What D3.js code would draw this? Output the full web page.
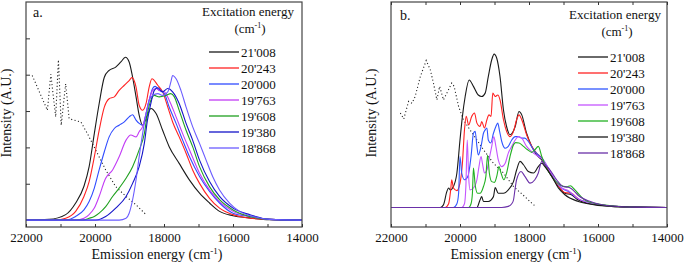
<!DOCTYPE html>
<html>
<head>
<meta charset="utf-8">
<script src="https://cdn.jsdelivr.net/npm/d3@7/dist/d3.min.js"></script>
<style>
body { margin: 0; background: #fff; }
</style>
</head>
<body>
<svg id="chart" width="685" height="266"></svg>
<script>
//Excitation energies used as legend entries (cm-1)
var excitationLabels = ["21'008", "20'243", "20'000", "19'763", "19'608", "19'380", "18'868"];
var colorsA = ["#1a1a1a", "#ff2222", "#2f4bff", "#c23cf5", "#1fa01f", "#1414c8", "#6b5cff"];
var colorsB = ["#1a1a1a", "#ff2222", "#2f55ff", "#c455ff", "#22b022", "#1a1a1a", "#6a30a8"];

var energyLabels = [22000, 20000, 18000, 16000, 14000];
var energyTicks = [22000, 21000, 20000, 19000, 18000, 17000, 16000, 15000, 14000];
var intensityTicksA = [1, 2, 3, 4, 5];

var serif = "'Liberation Serif', 'Times New Roman', Times, 'DejaVu Serif', serif";

//Panel a: room temperature emission spectra [energy, intensity]
var a21008 = [[22000,0],[21330,0.02],[20850,0.15],[20560,0.47],[20320,0.93],[20170,1.47],[20020,2.38],[19880,3.20],[19730,3.93],[19590,4.12],[19400,4.21],[19250,4.35],[19120,4.48],[19010,4.35],[18910,3.93],[18810,3.39],[18720,2.89],[18620,2.61],[18480,2.89],[18380,3.07],[18230,2.93],[18040,2.47],[17850,2.02],[17560,1.56],[17260,1.10],[16970,0.74],[16680,0.47],[16390,0.24],[16000,0.12],[15520,0.06],[14940,0.01],[14000,0]];
var a20243 = [[22000,0],[21140,0],[20850,0.05],[20560,0.24],[20320,0.65],[20170,1.06],[20020,1.74],[19880,2.47],[19730,3.11],[19590,3.34],[19440,3.39],[19300,3.57],[19150,3.71],[19010,3.84],[18930,3.92],[18810,3.66],[18720,3.16],[18620,3.02],[18520,3.21],[18430,3.66],[18350,3.89],[18180,3.71],[18040,3.53],[17890,3.11],[17750,2.70],[17560,2.29],[17360,1.84],[17170,1.38],[16970,1.01],[16680,0.60],[16390,0.33],[16000,0.15],[15520,0.05],[14940,0.02],[14000,0]];
var a20000 = [[22000,0],[20850,0],[20560,0.10],[20320,0.28],[20170,0.51],[20020,0.88],[19880,1.38],[19730,1.88],[19590,2.29],[19440,2.52],[19300,2.61],[19150,2.70],[19010,2.84],[18910,2.90],[18810,2.75],[18720,2.66],[18620,2.61],[18520,2.93],[18430,3.30],[18330,3.62],[18260,3.68],[18140,3.57],[17990,3.48],[17850,3.11],[17650,2.66],[17460,2.20],[17260,1.74],[16970,1.20],[16680,0.79],[16390,0.47],[16000,0.19],[15520,0.10],[14940,0.02],[14000,0]];
var a19763 = [[22000,0],[20560,0],[20320,0.05],[20170,0.15],[20020,0.33],[19880,0.65],[19730,1.06],[19690,1.15],[19490,1.38],[19300,1.74],[19100,2.20],[18960,2.34],[18810,2.29],[18720,2.43],[18620,2.57],[18520,2.93],[18430,3.30],[18330,3.57],[18230,3.62],[18140,3.57],[17990,3.53],[17850,3.30],[17650,2.84],[17460,2.38],[17260,1.93],[16970,1.29],[16680,0.83],[16390,0.51],[16000,0.24],[15520,0.10],[14940,0.02],[14000,0]];
var a19608 = [[22000,0],[20360,0],[20170,0.05],[20020,0.10],[19880,0.19],[19690,0.37],[19490,0.65],[19300,0.88],[19100,1.15],[18910,1.47],[18720,1.93],[18570,2.38],[18480,2.93],[18380,3.30],[18280,3.43],[18140,3.39],[17940,3.43],[17800,3.48],[17700,3.39],[17560,3.02],[17360,2.47],[17170,2.02],[16970,1.47],[16680,0.92],[16390,0.56],[16000,0.28],[15520,0.10],[14940,0.02],[14000,0]];
var a19380 = [[22000,0],[19980,0],[19690,0.10],[19400,0.33],[19100,0.65],[18910,1.01],[18720,1.47],[18570,2.11],[18480,2.75],[18380,3.21],[18280,3.57],[18180,3.64],[18040,3.53],[17890,3.62],[17750,3.53],[17560,3.21],[17360,2.66],[17170,2.20],[16970,1.65],[16680,1.06],[16390,0.65],[16000,0.33],[15520,0.15],[14940,0.02],[14000,0]];
var a18868 = [[22000,0],[19300,0],[19100,0.05],[19010,0.19],[18910,0.56],[18810,1.11],[18720,1.74],[18620,2.38],[18520,2.93],[18430,3.30],[18330,3.43],[18180,3.48],[18040,3.43],[17890,3.53],[17800,3.80],[17750,3.98],[17650,3.89],[17510,3.57],[17360,3.11],[17170,2.57],[16970,2.11],[16780,1.65],[16590,1.20],[16390,0.83],[16100,0.47],[15810,0.24],[15420,0.10],[14940,0.02],[14000,0]];
//Panel a: excitation spectrum (dotted)
var absorptionA = [[21820,3.98],[21380,3.02],[21280,4.01],[21140,2.84],[21060,4.41],[20980,2.61],[20850,3.75],[20750,2.79],[20610,2.75],[20410,2.70],[20220,2.38],[19980,1.93],[19690,1.38],[19400,0.92],[19100,0.65],[18810,0.42],[18520,0.15]];

//Panel b: low temperature emission spectra [energy, intensity]
var b21008 = [[22000,0],[20570,0],[20480,0.07],[20380,0.43],[20330,0.52],[20280,0.47],[20190,0.56],[20090,0.92],[20000,1.80],[19930,2.43],[19850,2.96],[19735,3.40],[19610,3.23],[19470,3.00],[19370,2.96],[19270,3.05],[19180,3.49],[19080,3.94],[19010,4.09],[18935,3.98],[18840,3.49],[18740,2.60],[18650,2.16],[18550,1.94],[18400,2.16],[18290,2.56],[18210,2.47],[18070,1.98],[17920,1.63],[17780,1.40],[17630,1.27],[17490,1.05],[17340,0.83],[17150,0.56],[16960,0.38],[16770,0.34],[16570,0.20],[16090,0.08],[15610,0.03],[14935,0.01],[14000,0]];
var b20243 = [[22000,0],[20430,0],[20330,0.10],[20270,0.47],[20240,0.74],[20190,0.52],[20090,0.45],[20000,0.65],[19930,1.18],[19870,2.07],[19820,2.43],[19750,2.20],[19660,2.43],[19580,2.52],[19510,2.25],[19420,2.16],[19370,2.29],[19290,2.12],[19220,2.34],[19160,2.47],[19100,2.43],[19050,3.05],[18980,2.96],[18905,3.00],[18840,2.87],[18740,2.34],[18650,2.03],[18550,1.89],[18450,2.03],[18360,2.34],[18290,2.47],[18210,2.34],[18070,1.94],[17920,1.63],[17780,1.45],[17630,1.32],[17490,1.09],[17340,0.84],[17150,0.58],[16960,0.40],[16770,0.38],[16570,0.23],[16090,0.10],[15610,0.04],[14935,0.01],[14000,0]];
var b20000 = [[22000,0],[20190,0],[20090,0.10],[20040,0.38],[20000,1.36],[19950,0.92],[19870,0.74],[19770,0.83],[19680,1.36],[19610,1.98],[19560,2.03],[19510,1.63],[19470,1.40],[19390,1.63],[19320,1.98],[19270,2.07],[19220,2.12],[19180,1.80],[19110,1.72],[19030,1.98],[18960,2.16],[18905,2.25],[18860,2.07],[18790,1.76],[18690,1.58],[18600,1.63],[18500,1.80],[18400,1.89],[18310,1.89],[18210,1.85],[18120,1.85],[18020,1.76],[17870,1.54],[17730,1.40],[17590,1.27],[17440,1.05],[17250,0.74],[17055,0.52],[16860,0.43],[16570,0.23],[16090,0.10],[15610,0.04],[14935,0.01],[14000,0]];
var b19763 = [[22000,0],[19950,0],[19870,0.10],[19830,0.56],[19790,1.80],[19750,0.83],[19710,0.47],[19610,0.52],[19510,0.74],[19450,1.09],[19390,1.36],[19350,1.18],[19290,0.92],[19220,1.00],[19160,1.27],[19080,1.63],[19020,1.89],[18960,1.63],[18890,1.27],[18790,1.09],[18690,1.18],[18600,1.45],[18500,1.63],[18400,1.80],[18310,1.89],[18210,1.85],[18070,1.63],[17920,1.49],[17730,1.36],[17590,1.27],[17440,1.05],[17250,0.74],[17055,0.52],[16860,0.45],[16570,0.23],[16090,0.10],[15610,0.04],[14935,0.01],[14000,0]];
var b19608 = [[22000,0],[19750,0],[19680,0.10],[19640,0.38],[19610,1.05],[19560,0.60],[19490,0.38],[19420,0.38],[19320,0.56],[19250,0.83],[19200,1.40],[19150,0.92],[19080,0.69],[19000,0.67],[18935,0.83],[18870,1.09],[18810,0.92],[18730,0.74],[18650,0.92],[18550,1.36],[18450,1.67],[18390,1.73],[18290,1.72],[18160,1.63],[18040,1.54],[17920,1.47],[17830,1.54],[17730,1.63],[17630,1.36],[17490,1.05],[17300,0.78],[17100,0.60],[16910,0.55],[16800,0.58],[16700,0.50],[16600,0.40],[16380,0.20],[15995,0.09],[15420,0.03],[14935,0.01],[14000,0]];
var b19380 = [[22000,0],[19510,0],[19420,0.20],[19370,0.29],[19320,0.16],[19180,0.16],[19030,0.29],[18980,0.53],[18890,0.38],[18740,0.38],[18600,0.47],[18450,0.69],[18360,1.00],[18260,1.23],[18160,1.14],[18020,0.96],[17870,0.92],[17730,1.09],[17630,1.18],[17540,1.09],[17340,0.83],[17150,0.52],[16960,0.34],[16570,0.16],[16090,0.07],[15610,0.03],[14935,0.01],[14000,0]];
var b18868 = [[22000,0],[18790,0],[18600,0.03],[18500,0.10],[18450,0.20],[18400,0.52],[18360,0.74],[18230,0.96],[18120,0.83],[17970,0.65],[17830,0.74],[17730,0.92],[17630,1.23],[17540,1.14],[17390,1.00],[17200,0.74],[17010,0.56],[16860,0.54],[16770,0.50],[16570,0.32],[16090,0.12],[15610,0.04],[14935,0.01],[14000,0]];
//Panel b: excitation spectrum (dotted)
var absorptionB = [[21730,2.52],[21630,2.36],[21490,2.83],[21390,2.78],[21300,2.96],[21150,3.49],[20980,3.92],[20860,3.67],[20770,3.32],[20670,2.87],[20590,3.23],[20480,2.87],[20380,3.05],[20240,3.32],[20170,3.23],[20040,2.69],[19900,2.34],[19710,2.07],[19510,1.80],[19320,1.54],[19030,1.18],[18740,0.92],[18450,0.56],[18120,0.29],[17870,0.07],[17780,0.03]];

var svg = d3.select("#chart")
    .attr("font-family", serif)
    .style("font-family", serif);

function drawPanel(cfg) {
    var x = d3.scaleLinear().domain([22000, 14000]).range(cfg.xRange);
    var y = d3.scaleLinear().domain(cfg.yDomain).range([227, 2]);
    var g = svg.append("g");

    var line = d3.line()
        .x(function (d) { return x(d[0]); })
        .y(function (d) { return y(d[1]); })
        .curve(d3.curveMonotoneX);

    //dotted excitation spectrum
    g.append("path")
        .datum(cfg.absorption)
        .attr("d", d3.line().x(function (d) { return x(d[0]); }).y(function (d) { return y(d[1]); }))
        .attr("fill", "none")
        .attr("stroke", "#222")
        .attr("stroke-width", 1.1)
        .attr("stroke-dasharray", "1.1,2.4");

    cfg.series.forEach(function (s, i) {
        g.append("path")
            .datum(s)
            .attr("d", line)
            .attr("fill", "none")
            .attr("stroke", cfg.colors[i])
            .attr("stroke-width", 1.1);
    });

    //frame
    g.append("rect")
        .attr("x", cfg.xRange[0])
        .attr("y", 2)
        .attr("width", cfg.xRange[1] - cfg.xRange[0])
        .attr("height", 225)
        .attr("fill", "none")
        .attr("stroke", "#444")
        .attr("stroke-width", 1.2);

    var xAxis = g.append("g")
        .attr("transform", "translate(0,227)")
        .call(d3.axisBottom(x)
            .tickValues(energyTicks)
            .tickSize(-3)
            .tickPadding(6)
            .tickFormat(function (d) { return energyLabels.indexOf(d) >= 0 ? d : ""; }));
    xAxis.attr("font-family", serif).attr("font-size", 13);
    xAxis.select(".domain").remove();
    xAxis.selectAll("line").attr("stroke", "#333");
    xAxis.selectAll("text").attr("fill", "#111");

    if (cfg.topTicks) {
        var top = g.append("g")
            .attr("transform", "translate(0,2)")
            .call(d3.axisTop(x).tickValues(energyTicks).tickSize(-3).tickFormat(""));
        top.select(".domain").remove();
        top.selectAll("line").attr("stroke", "#333");
    }

    if (cfg.yTicks) {
        var left = g.append("g")
            .attr("transform", "translate(" + cfg.xRange[0] + ",0)")
            .call(d3.axisLeft(y).tickValues(cfg.yTicks).tickSize(-4).tickFormat(""));
        left.select(".domain").remove();
        left.selectAll("line").attr("stroke", "#333");
    }

    //axis titles
    var xt = g.append("text")
        .attr("x", cfg.xTitleX)
        .attr("y", 259)
        .attr("text-anchor", "middle")
        .attr("font-size", "14px")
        .attr("fill", "#111");
    xt.append("tspan").text("Emission energy (cm");
    xt.append("tspan").attr("dy", -5).attr("font-size", "9px").text("-1");
    xt.append("tspan").attr("dy", 5).text(")");

    g.append("text")
        .attr("transform", "translate(" + cfg.yTitleX + ",113) rotate(-90)")
        .attr("text-anchor", "middle")
        .attr("font-size", "14px")
        .attr("fill", "#111")
        .text("Intensity (A.U.)");

    g.append("text")
        .attr("x", cfg.tag[1])
        .attr("y", cfg.tag[2])
        .attr("font-size", "14px")
        .attr("fill", "#111")
        .text(cfg.tag[0]);

    //legend
    var lg = cfg.legend;
    g.append("text")
        .attr("x", lg.cx)
        .attr("y", lg.top)
        .attr("text-anchor", "middle")
        .attr("font-size", "13px")
        .attr("fill", "#111")
        .text("Excitation energy");
    var unit = g.append("text")
        .attr("x", lg.cx + 2)
        .attr("y", lg.top + 17.5)
        .attr("text-anchor", "middle")
        .attr("font-size", "13px")
        .attr("fill", "#111");
    unit.append("tspan").text("(cm");
    unit.append("tspan").attr("dy", -5).attr("font-size", "8px").text("-1");
    unit.append("tspan").attr("dy", 5).text(")");

    excitationLabels.forEach(function (label, i) {
        var ly = lg.row0 + i * 16;
        g.append("line")
            .attr("x1", lg.x0)
            .attr("x2", lg.x0 + 30)
            .attr("y1", ly)
            .attr("y2", ly)
            .attr("stroke", cfg.colors[i])
            .attr("stroke-width", 1.3);
        g.append("text")
            .attr("x", lg.x0 + 32)
            .attr("y", ly + 4.5)
            .attr("font-size", "13px")
            .attr("fill", "#111")
            .text(label);
    });
}

drawPanel({
    xRange: [26, 302],
    yDomain: [-0.19, 6],
    series: [a21008, a20243, a20000, a19763, a19608, a19380, a18868],
    absorption: absorptionA,
    colors: colorsA,
    yTicks: intensityTicksA,
    topTicks: false,
    xTitleX: 157,
    yTitleX: 11,
    tag: ["a.", 33, 16.5],
    legend: { cx: 248, top: 15.5, row0: 52, x0: 209 }
});

drawPanel({
    xRange: [391, 667],
    yDomain: [-0.52, 5.48],
    series: [b21008, b20243, b20000, b19763, b19608, b19380, b18868],
    absorption: absorptionB,
    colors: colorsB,
    yTicks: null,
    topTicks: true,
    xTitleX: 516,
    yTitleX: 376,
    tag: ["b.", 400, 20],
    legend: { cx: 615, top: 18.5, row0: 57, x0: 578 }
});
</script>
</body>
</html>
